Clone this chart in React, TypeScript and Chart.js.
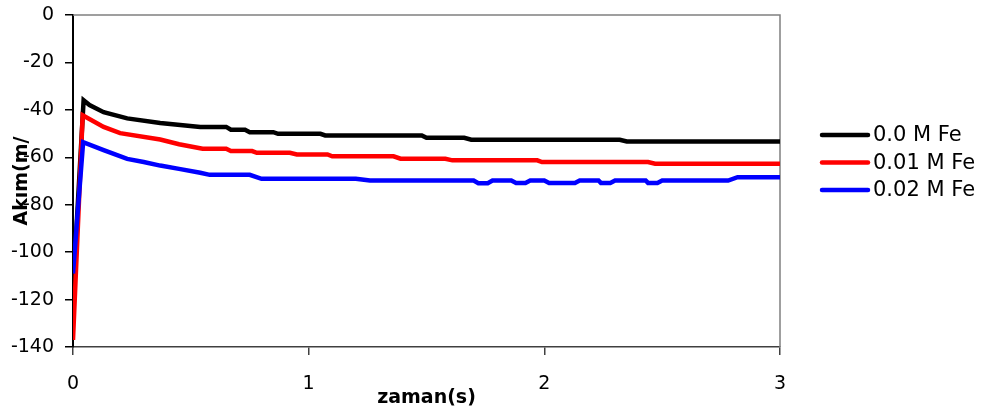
import { useEffect, useRef } from "react";
import { Chart, registerables } from "chart.js";

Chart.register(...registerables);

// ---- data ----
const seriesLabels = ["0.0 M Fe", "0.01 M Fe", "0.02 M Fe"];
const seriesColors = ["#000000", "#ff0000", "#0000ff"];

const blackX = [0, 0.045, 0.07, 0.13, 0.23, 0.37, 0.54, 0.65, 0.67, 0.73, 0.75, 0.85, 0.87, 1.05, 1.07, 1.48, 1.5, 1.66, 1.69, 2.32, 2.35, 3.0];
const blackY = [-116, -36, -38, -41, -43.6, -45.5, -47.2, -47.2, -48.4, -48.4, -49.4, -49.4, -50.1, -50.1, -50.8, -50.8, -51.8, -51.8, -52.6, -52.6, -53.3, -53.3];

const redX = [0, 0.041, 0.13, 0.2, 0.37, 0.45, 0.55, 0.65, 0.67, 0.76, 0.78, 0.92, 0.95, 1.08, 1.1, 1.36, 1.39, 1.58, 1.61, 1.97, 1.99, 2.44, 2.47, 3.0];
const redY = [-137, -42.3, -47.2, -49.8, -52.5, -54.5, -56.4, -56.4, -57.4, -57.4, -58.1, -58.1, -58.8, -58.8, -59.6, -59.6, -60.6, -60.6, -61.3, -61.3, -62.0, -62.0, -62.7, -62.7];

const blueX = [0, 0.043, 0.13, 0.23, 0.3, 0.37, 0.45, 0.54, 0.58, 0.75, 0.8, 1.2, 1.26, 1.7, 1.72, 1.76, 1.78, 1.86, 1.88, 1.92, 1.94, 2.0, 2.02, 2.13, 2.15, 2.23, 2.24, 2.28, 2.3, 2.43, 2.44, 2.48, 2.5, 2.78, 2.82, 3.0];
const blueY = [-109, -53.6, -57, -60.7, -62, -63.5, -64.9, -66.5, -67.4, -67.4, -69.1, -69.1, -69.8, -69.8, -70.9, -70.9, -69.8, -69.8, -70.8, -70.8, -69.8, -69.8, -70.8, -70.8, -69.8, -69.8, -70.8, -70.8, -69.8, -69.8, -70.8, -70.8, -69.8, -69.8, -68.4, -68.4];

const xTickValues = [0, 1, 2, 3];
const yTickValues = [0, -20, -40, -60, -80, -100, -120, -140];

const xTitle = "zaman(s)";
const yTitle = "Akım(m/";

const FONT = "'DejaVu Sans', sans-serif";

const toPoints = (xs: number[], ys: number[]) => xs.map((x, i) => ({ x, y: ys[i] }));

const frameAndLegend = {
  id: "frameAndLegend",
  beforeDatasetsDraw(chart: any) {
    const { ctx, chartArea } = chart;
    ctx.save();
    ctx.strokeStyle = "#808080";
    ctx.lineWidth = 1.5;
    ctx.beginPath();
    ctx.moveTo(chartArea.left, chartArea.top);
    ctx.lineTo(chartArea.right, chartArea.top);
    ctx.lineTo(chartArea.right, chartArea.bottom);
    ctx.stroke();
    ctx.restore();
  },
  afterDraw(chart: any) {
    const { ctx } = chart;
    const ds = chart.data.datasets;
    const lx0 = 822;
    const lx1 = 868;
    const tx = 873;
    const y0 = 135;
    const dy = 27.5;
    ctx.save();
    ctx.font = `21px ${FONT}`;
    ctx.textBaseline = "middle";
    ctx.textAlign = "left";
    ds.forEach((d: any, i: number) => {
      const y = y0 + i * dy;
      ctx.strokeStyle = d.borderColor;
      ctx.lineWidth = 4.5;
      ctx.lineCap = "round";
      ctx.beginPath();
      ctx.moveTo(lx0, y);
      ctx.lineTo(lx1, y);
      ctx.stroke();
      ctx.fillStyle = "#000";
      ctx.fillText(d.label, tx, y + 1);
    });
    ctx.restore();
  },
};

export default function App() {
  const ref = useRef<HTMLCanvasElement | null>(null);

  useEffect(() => {
    if (!ref.current) return;
    const seriesX = [blackX, redX, blueX];
    const seriesY = [blackY, redY, blueY];
    const chart = new Chart(ref.current, {
      type: "line",
      data: {
        datasets: seriesLabels.map((label, i) => ({
          label,
          data: toPoints(seriesX[i], seriesY[i]),
          borderColor: seriesColors[i],
          backgroundColor: seriesColors[i],
          borderWidth: 4.5,
          pointRadius: 0,
          tension: 0,
          fill: false,
          order: seriesLabels.length - i,
        })),
      },
      options: {
        responsive: false,
        animation: false,
        events: [],
        layout: { padding: { left: 0, top: 15, right: 211, bottom: 0 } },
        plugins: {
          legend: { display: false },
          tooltip: { enabled: false },
        },
        scales: {
          x: {
            type: "linear",
            min: xTickValues[0],
            max: xTickValues[xTickValues.length - 1],
            afterBuildTicks: (scale: any) => {
              scale.ticks = xTickValues.map((v) => ({ value: v }));
            },
            afterFit: (scale: any) => {
              scale.height = 69;
              scale.paddingLeft = 0;
              scale.paddingRight = 0;
            },
            grid: { display: true, drawOnChartArea: false, drawTicks: true, tickLength: 8, color: "#404040", lineWidth: 1.5 },
            border: { display: true, color: "#404040", width: 1.5 },
            ticks: { color: "#000", font: { family: FONT, size: 19 }, padding: 18, maxRotation: 0 },
            title: { display: true, text: xTitle, color: "#000", font: { family: FONT, size: 19, weight: "bold" }, padding: { top: 0, bottom: 7 } },
          },
          y: {
            type: "linear",
            min: yTickValues[yTickValues.length - 1],
            max: yTickValues[0],
            afterBuildTicks: (scale: any) => {
              scale.ticks = [...yTickValues].reverse().map((v) => ({ value: v }));
            },
            afterFit: (scale: any) => {
              scale.width = 73;
              scale.paddingTop = 0;
              scale.paddingBottom = 0;
            },
            grid: { display: true, drawOnChartArea: false, drawTicks: true, tickLength: 8, color: "#000", lineWidth: 1.5 },
            border: { display: true, color: "#000", width: 2 },
            ticks: { color: "#000", font: { family: FONT, size: 19 }, padding: 11 },
            title: { display: true, text: yTitle, color: "#000", font: { family: FONT, size: 19, weight: "bold" }, padding: { top: 11, bottom: 0 } },
          },
        },
      },
      plugins: [frameAndLegend],
    } as any);
    return () => chart.destroy();
  }, []);

  return (
    <div style={{ position: "absolute", left: 0, top: 0, width: 991, height: 416, background: "#fff" }}>
      <canvas ref={ref} width={991} height={416} style={{ display: "block" }} />
    </div>
  );
}
